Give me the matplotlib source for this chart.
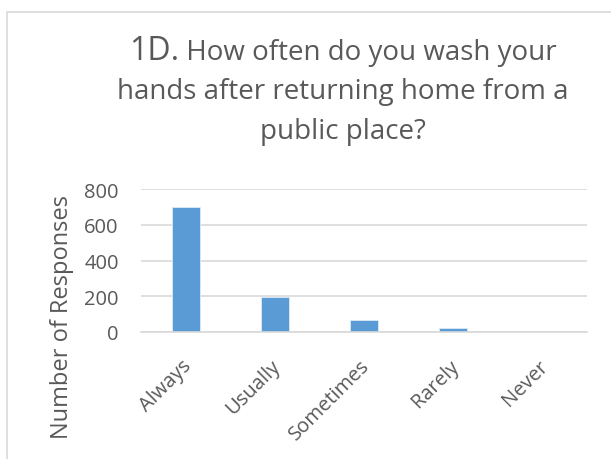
import matplotlib
matplotlib.use("Agg")
import matplotlib.pyplot as plt
from matplotlib.patches import Rectangle
from matplotlib.transforms import ScaledTranslation

categories = ["Always", "Usually", "Sometimes", "Rarely", "Never"]
responses = [702, 197, 67, 24, 2]
yticks = [0, 200, 400, 600, 800]

TXT = "#595959"
BAR = "#5b9bd5"
GRID = "#d9d9d9"
FONT = "Open Sans"

W, H = 611, 460
fig = plt.figure(figsize=(W / 100, H / 100), dpi=100)
plt.rcParams["font.family"] = [FONT, "DejaVu Sans"]

# chart border
fig.patches.append(Rectangle((7 / W, -0.1), 1.2, 1 - 12.5 / H + 0.1, transform=fig.transFigure,
                             fill=False, edgecolor=GRID, linewidth=1.2))

ax = fig.add_axes([141 / W, 1 - 333 / H, (587 - 141) / W, (333 - 190) / H])
x = range(len(categories))
ax.bar(x, responses, width=0.315, color=BAR, edgecolor="#ddeaf6", linewidth=0.6, zorder=3)
ax.set_xlim(-0.5, len(categories) - 0.5)
ax.set_ylim(0, 800)
ax.set_yticks(yticks)
ax.set_yticklabels([str(v) for v in yticks])
ax.grid(axis="y", color=GRID, linewidth=1.2, zorder=0)
for s in ["top", "right", "left"]:
    ax.spines[s].set_visible(False)
ax.spines["bottom"].set_color(GRID)
ax.spines["bottom"].set_linewidth(1.2)
ax.spines["bottom"].set_zorder(4)
ax.tick_params(axis="both", length=0, labelsize=14.5, labelcolor=TXT)
ax.tick_params(axis="y", pad=16)
ax.set_xticks(list(x))
ax.set_xticklabels(categories, rotation=45, ha="right", va="center", rotation_mode="anchor")
ax.tick_params(axis="x", pad=22)
off = ScaledTranslation(3 / 100, 0, fig.dpi_scale_trans)
for lbl in ax.get_xticklabels():
    lbl.set_transform(lbl.get_transform() + off)

fig.text(62 / W, 1 - 317 / H, "Number of Responses", rotation=90, ha="center", va="center",
         fontsize=17, color=TXT)

# title with larger "1D."
fig.canvas.draw()
r = fig.canvas.get_renderer()
cx = 343 / W
big = fig.text(0, 1 - 60 / H, "1D.", fontsize=23, color=TXT, ha="left", va="baseline")
rest = fig.text(0, 1 - 60 / H, " How often do you wash your", fontsize=20, color=TXT, ha="left", va="baseline")
wb = big.get_window_extent(r).width / W
wr = rest.get_window_extent(r).width / W
start = cx - (wb + wr) / 2
big.set_x(start)
rest.set_x(start + wb)
fig.text(cx, 1 - 99 / H, "hands after returning home from a", fontsize=20, color=TXT, ha="center", va="baseline")
fig.text(cx, 1 - 139 / H, "public place?", fontsize=20, color=TXT, ha="center", va="baseline")

fig.savefig("out.png", dpi=100, facecolor="white")
